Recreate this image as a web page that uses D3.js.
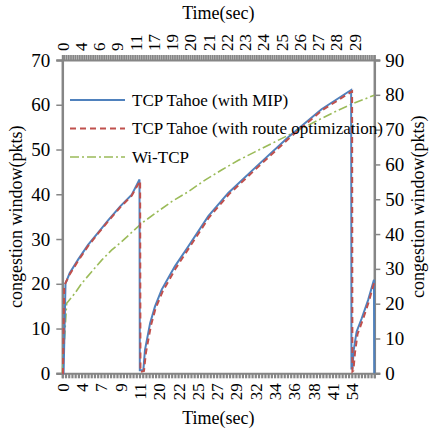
<!DOCTYPE html>
<html><head><meta charset="utf-8">
<script src="https://cdn.jsdelivr.net/npm/d3@7"></script>
</head>
<body style="margin:0;background:#fff"><svg id="c" width="431" height="430"></svg>
<script>
// ---- data ----
const bottomLabels = ["0","4","7","9","11","20","22","25","27","29","32","34","36","38","41","54"];
const bottomLabelStep = 6;      // one label every 6 categories
const bottomCategories = 97;    // category index span
const topLabels = ["0","4","6","9","11","17","19","20","21","22","23","24","25","26","27","28","29"];
const topLabelStep = 10;
const topCategories = 171;
const leftTicks = [0,10,20,30,40,50,60,70];
const rightTicks = [0,10,20,30,40,50,60,70,80,90];
const seriesNames = ["TCP Tahoe (with MIP)","TCP Tahoe (with route optimization)","Wi-TCP"];

// TCP Tahoe (with MIP): [category index, cwnd]
const tahoeMIP = [[0,0],[0.4,0],[1,20.1],[2.3,22.4],[4.9,25.4],[8,28.7],[11.2,31.5],[14.3,34.2],[18,37.3],[21.6,39.9],[24,43.3],
  [24.1,0.7],[25.2,0.7],[25.7,5.2],[27.3,11.2],[28.8,14.9],[30.9,18.7],[35,23.9],[39.2,28.4],[45.4,35.1],[51.6,40.3],[59.9,45.9],[70.3,52.8],[80.6,59],[89.8,63.3],
  [89.9,1.1],[90.2,1.1],[90.6,5.2],[91.5,9.3],[93.1,12.3],[95.1,16.4],[96.9,20.9],[97,0]];
// TCP Tahoe (with route optimization)
const tahoeRO = [[0,0],[0.2,0],[0.6,19.6],[2.3,22.1],[4.9,25.1],[8,28.4],[11.2,31.3],[14.3,34.0],[18,37.1],[21.6,39.7],[24.2,43.0],
  [24.3,0.3],[25.4,0.5],[26,4.6],[27.6,10.8],[29,14.5],[31.2,18.3],[35.3,23.5],[39.5,28.1],[45.6,34.8],[51.8,40.0],[60.1,45.6],[70.5,52.5],[80.8,58.8],[90.1,63.0],
  [90.2,0.4],[90.5,0.6],[91,4.6],[91.8,8.8],[93.4,11.9],[95.3,16],[97,20.4]];
// Wi-TCP (secondary axes): [top category index, cwnd]
const wiTCP = [[0,0],[1,8],[2.4,20.1],[6.9,23.0],[10.6,25.8],[16.1,29.2],[21.6,32.5],[27,35.4],[32.5,37.8],[43.5,43.1],[50.8,45.9],[59.9,49.3],[69.1,52.2],[78.2,55.5],[87.3,58.4],[96.5,61.2],[105.6,63.6],[114.7,66.0],[123.9,68.4],[133,70.8],[142.1,73.2],[151.3,75.6],[160.4,77.7],[171,79.9]];

// ---- layout ----
const L = 62.3, R = 374.3, T = 60, B = 373.3;
const grey = "#868686";
const FONT = "Liberation Serif";
const svg = d3.select("#c");

const x = d3.scaleLinear().domain([0,bottomCategories]).range([L,R]);
const x2 = d3.scaleLinear().domain([0,topCategories]).range([L,R]);
const y = d3.scaleLinear().domain([0,70]).range([B,T]);
const y2 = d3.scaleLinear().domain([0,90]).range([B,T]);

function styleText(g,size){ g.attr("font-family",FONT).attr("font-size",size); g.selectAll("text").attr("font-size",size).attr("font-family",FONT).attr("fill","#000"); }

// bottom axis: dense category ticks
const bottomTickIdx = d3.range(0,bottomCategories+1);
svg.append("g").attr("transform",`translate(0,${B})`)
  .call(d3.axisBottom(x).tickValues(bottomTickIdx).tickSize(5).tickFormat(""))
  .call(g=>{g.selectAll("line").attr("stroke",grey).attr("stroke-width",2.2);g.select(".domain").attr("stroke",grey).attr("stroke-width",2);});
svg.append("g").attr("transform",`translate(0,${B})`)
  .call(d3.axisBottom(x).tickValues(bottomLabels.map((d,i)=>i*bottomLabelStep)).tickSize(0).tickFormat((d,i)=>bottomLabels[i]))
  .call(g=>{g.select(".domain").remove(); styleText(g,17);
    g.selectAll("text").attr("transform","rotate(-90)").attr("text-anchor","end").attr("x",-10).attr("y",0).attr("dy","0.35em");});

// top axis
const topTickIdx = d3.range(0,topCategories+1);
svg.append("g").attr("transform",`translate(0,${T})`)
  .call(d3.axisTop(x2).tickValues(topTickIdx).tickSize(5).tickFormat(""))
  .call(g=>{g.selectAll("line").attr("stroke",grey).attr("stroke-width",1.6);g.select(".domain").attr("stroke",grey).attr("stroke-width",2);});
svg.append("g").attr("transform",`translate(0,${T})`)
  .call(d3.axisTop(x2).tickValues(topLabels.map((d,i)=>i*topLabelStep)).tickSize(0).tickFormat((d,i)=>topLabels[i]))
  .call(g=>{g.select(".domain").remove(); styleText(g,17);
    g.selectAll("text").attr("transform","rotate(-90)").attr("text-anchor","start").attr("x",9).attr("y",0).attr("dy","0.35em");});

// left axis
svg.append("g").attr("transform",`translate(${L},0)`)
  .call(d3.axisLeft(y).tickValues(leftTicks).tickSize(6).tickPadding(6))
  .call(g=>{g.selectAll("line").attr("stroke",grey).attr("stroke-width",1.5);g.select(".domain").attr("stroke",grey).attr("stroke-width",2.5);
    styleText(g,19);});
// right axis
svg.append("g").attr("transform",`translate(${R},0)`)
  .call(d3.axisRight(y2).tickValues(rightTicks).tickSize(6).tickPadding(5))
  .call(g=>{g.selectAll("line").attr("stroke",grey).attr("stroke-width",1.5);g.select(".domain").attr("stroke",grey).attr("stroke-width",2.5);
    styleText(g,19);});

// titles
const titles = svg.append("g").attr("font-family",FONT).attr("font-size",18);
titles.append("text").attr("x",(L+R)/2).attr("y",19).attr("text-anchor","middle").attr("font-family",FONT).text("Time(sec)");
titles.append("text").attr("x",(L+R)/2).attr("y",424).attr("text-anchor","middle").attr("font-family",FONT).text("Time(sec)");
titles.append("text").attr("transform",`translate(16,${(T+B)/2}) rotate(-90)`).attr("text-anchor","middle").attr("dy","0.35em").attr("font-family",FONT).text("congestion window(pkts)");
titles.append("text").attr("transform",`translate(418,${(T+B)/2 - 10}) rotate(-90)`).attr("text-anchor","middle").attr("dy","0.35em").attr("font-family",FONT).text("congestion window(pkts)");

// lines
const line1 = d3.line().x(d=>x(d[0])).y(d=>y(d[1]));
const line2 = d3.line().x(d=>x2(d[0])).y(d=>y2(d[1]));
const styles = [
  {color:"#4F81BD",dash:null,w:2},
  {color:"#C0504D",dash:"6,4",w:2},
  {color:"#9BBB59",dash:"9,3,2,3",w:1.6}];
svg.append("path").datum(wiTCP).attr("d",line2).attr("fill","none").attr("stroke",styles[2].color).attr("stroke-width",styles[2].w).attr("stroke-dasharray",styles[2].dash);
svg.append("path").datum(tahoeMIP).attr("d",line1).attr("fill","none").attr("stroke",styles[0].color).attr("stroke-width",styles[0].w);
svg.append("path").datum(tahoeRO).attr("d",line1).attr("fill","none").attr("stroke",styles[1].color).attr("stroke-width",styles[1].w).attr("stroke-dasharray",styles[1].dash);

// legend
const lg = svg.append("g").attr("font-family",FONT);
seriesNames.forEach((n,i)=>{
  const yy = 100 + i*28.5;
  lg.append("line").attr("x1",70).attr("x2",125).attr("y1",yy).attr("y2",yy)
    .attr("stroke",styles[i].color).attr("stroke-width",styles[i].w).attr("stroke-dasharray",styles[i].dash);
  lg.append("text").attr("x",132).attr("y",yy).attr("dy","0.35em").attr("font-size",17).attr("font-family",FONT).text(n);
});
</script></body></html>
